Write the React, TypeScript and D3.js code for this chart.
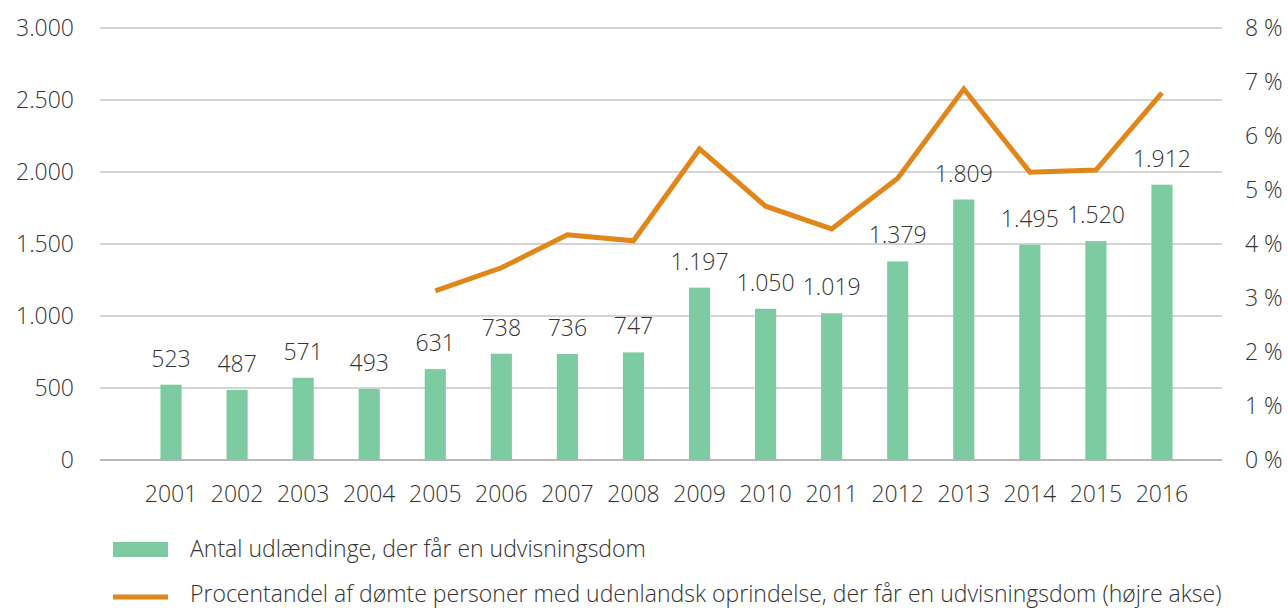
import React from "react";
import * as d3 from "d3";

const years = ["2001","2002","2003","2004","2005","2006","2007","2008","2009","2010","2011","2012","2013","2014","2015","2016"];
const counts = [523,487,571,493,631,738,736,747,1197,1050,1019,1379,1809,1495,1520,1912];
const pctYears = ["2005","2006","2007","2008","2009","2010","2011","2012","2013","2014","2015","2016"];
const pctValues = [3.13,3.56,4.17,4.06,5.76,4.70,4.28,5.22,6.87,5.33,5.37,6.80];
const leftTicks = [0,500,1000,1500,2000,2500,3000];
const rightTicks = [0,1,2,3,4,5,6,7,8];
const legendLabels = [
  "Antal udlændinge, der får en udvisningsdom",
  "Procentandel af dømte personer med udenlandsk oprindelse, der får en udvisningsdom (højre akse)",
];

const BAR = "#7DCBA1";
const LINE = "#E0861A";
const TXT = "#333333";
const FONT = "'Open Sans', sans-serif";
const FS = 23;

export default function App() {
  const W = 1288, H = 608;
  const x = d3.scaleBand<string>().domain(years).range([138, 1195]).paddingInner(0.68).paddingOuter(0.34);
  const yL = d3.scaleLinear().domain([0, 3000]).range([460, 28]);
  const yR = d3.scaleLinear().domain([0, 8]).range([460, 28]);
  const fmt = (v: number) => d3.format(",")(v).replace(/,/g, ".");
  const line = d3.line<number>()
    .x((_, i) => (x(pctYears[i]) as number) + x.bandwidth() / 2)
    .y((d) => yR(d));

  return (
    <svg width={W} height={H} style={{ position: "absolute", left: 0, top: 0 }} fontFamily={FONT}>
      {leftTicks.filter((t) => t > 0).map((t) => (
        <line key={t} x1={100} x2={1222} y1={yL(t)} y2={yL(t)} stroke="#C6C6C6" strokeWidth={1.5} />
      ))}
      <line x1={100} x2={1222} y1={yL(0)} y2={yL(0)} stroke="#A0A0A0" strokeWidth={1.5} />
      {leftTicks.map((t) => (
        <text key={t} x={74} y={yL(t)} dy="0.35em" textAnchor="end" fontSize={FS} fill={TXT} fontWeight={300}>{fmt(t)}</text>
      ))}
      {rightTicks.map((t) => (
        <text key={t} x={1245} y={yR(t)} dy="0.35em" textAnchor="start" fontSize={FS} fill={TXT} fontWeight={300}>{t} %</text>
      ))}
      {years.map((yr, i) => (
        <g key={yr}>
          <rect x={x(yr)} y={yL(counts[i])} width={x.bandwidth()} height={yL(0) - yL(counts[i])} fill={BAR} />
          <text x={(x(yr) as number) + x.bandwidth() / 2} y={yL(counts[i]) - 18} textAnchor="middle" fontSize={FS} fill={TXT} fontWeight={300}>{fmt(counts[i])}</text>
          <text x={(x(yr) as number) + x.bandwidth() / 2} y={502} textAnchor="middle" fontSize={FS} fill={TXT} fontWeight={300}>{yr}</text>
        </g>
      ))}
      <path d={line(pctValues) as string} fill="none" stroke={LINE} strokeWidth={5} strokeLinejoin="miter" />
      <rect x={113} y={542} width={55} height={15} fill={BAR} />
      <text x={190} y={557} fontSize={FS} fill={TXT} fontWeight={300}>{legendLabels[0]}</text>
      <line x1={113} x2={168} y1={597} y2={597} stroke={LINE} strokeWidth={5} />
      <text x={190} y={602} fontSize={FS} fill={TXT} fontWeight={300}>{legendLabels[1]}</text>
    </svg>
  );
}
